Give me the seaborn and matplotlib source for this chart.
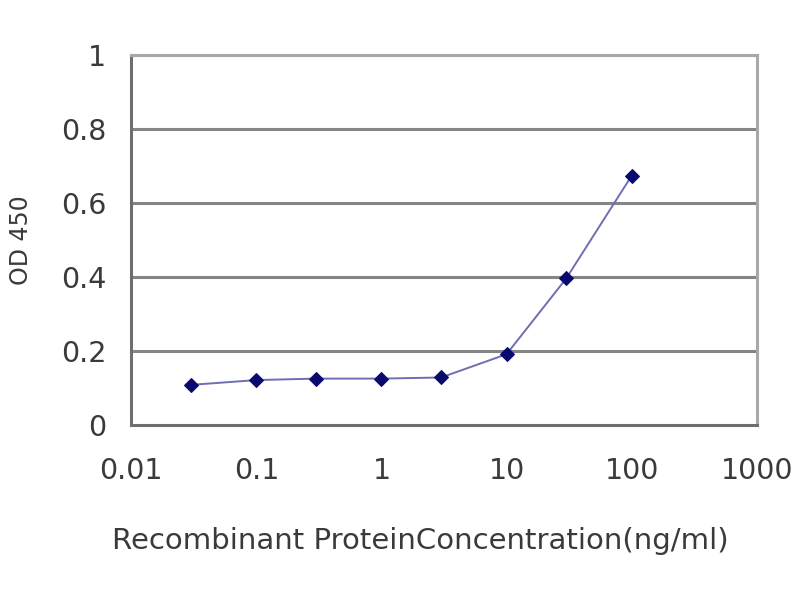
import matplotlib
matplotlib.use("Agg")
import matplotlib.pyplot as plt
import seaborn as sns
import pandas as pd

concentration = [0.03, 0.1, 0.3, 1, 3, 10, 30, 100]
od450 = [0.108, 0.121, 0.125, 0.125, 0.128, 0.191, 0.396, 0.674]
x_ticks = [0.01, 0.1, 1, 10, 100, 1000]
x_tick_labels = ["0.01", "0.1", "1", "10", "100", "1000"]
y_ticks = [0, 0.2, 0.4, 0.6, 0.8, 1]
y_tick_labels = ["0", "0.2", "0.4", "0.6", "0.8", "1"]

df = pd.DataFrame({"conc": concentration, "od": od450})

sns.set_style("white")
plt.rcParams["font.family"] = ["DejaVu Sans"]

fig = plt.figure(figsize=(8, 6), dpi=100)
ax = fig.add_axes([0.164, 0.292, 0.782, 0.616])

for y in y_ticks[1:]:
    ax.axhline(y, color="#858585", lw=2.2, zorder=1)

sns.lineplot(data=df, x="conc", y="od", ax=ax, color="#6e6eb4", lw=1.4,
             marker="D", markersize=7.5, markerfacecolor="#0a0a6e",
             markeredgecolor="#0a0a6e", zorder=3)

ax.set_xscale("log")
ax.set_xlim(0.01, 1000)
ax.set_ylim(0, 1)
ax.set_xticks(x_ticks)
ax.set_xticklabels(x_tick_labels)
ax.minorticks_off()
ax.set_yticks(y_ticks)
ax.set_yticklabels(y_tick_labels)

txt = "#3a3a3a"
ax.tick_params(axis="x", direction="in", length=5, width=1.5, color="#555555",
               labelsize=20.5, labelcolor=txt, pad=23)
ax.tick_params(axis="y", direction="in", length=5, width=1.5, color="#555555",
               labelsize=20.5, labelcolor=txt, pad=18)

for side in ["left", "bottom"]:
    ax.spines[side].set_color("#6e6e6e")
    ax.spines[side].set_linewidth(2.2)
for side in ["right", "top"]:
    ax.spines[side].set_color("#a8a8a8")
    ax.spines[side].set_linewidth(2.2)

ax.set_xlabel("")
ax.set_ylabel("")
fig.text(0.525, 0.098, "Recombinant ProteinConcentration(ng/ml)", ha="center",
         va="center", fontsize=21, color=txt)
fig.text(0.026, 0.60, "OD 450", ha="center", va="center", rotation=90,
         fontsize=17, color=txt)

fig.savefig("out.png", dpi=100, facecolor="white")
